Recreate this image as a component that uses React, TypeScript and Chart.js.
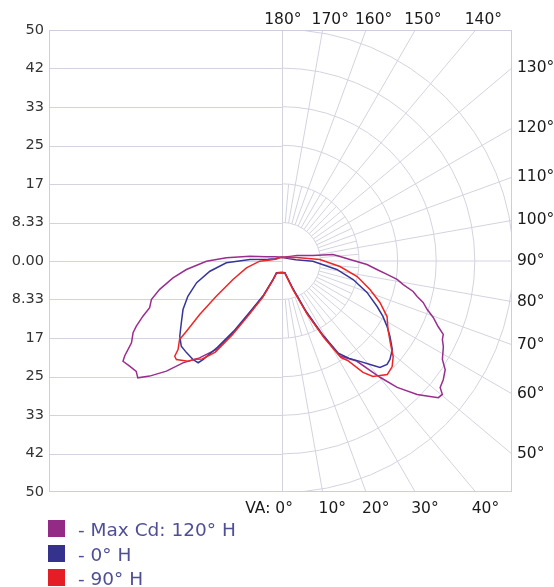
import React, { useEffect, useRef } from 'react';
import { Chart, registerables } from 'chart.js';

Chart.register(...registerables);

// candela scale (tick values run bottom -> top)
const yTickValues = [-50, -41.667, -33.333, -25, -16.667, -8.333, 0, 8.333, 16.667, 25, 33.333, 41.667, 50];
const yTickLabels = ['50', '42', '33', '25', '17', '8.33', '0.00', '8.33', '17', '25', '33', '42', '50'];
const ringValues = [8.333, 16.667, 25, 33.333, 41.667, 50];

// vertical angle labels around the polar half
const topAngles = [180, 170, 160, 150, 140];
const rightAngles = [130, 120, 110, 100, 90, 80, 70, 60, 50];
const bottomAngles = [0, 10, 20, 30, 40];

// [vertical angle, candela]
const maxCdRight = [
  [0, 2.5], [14, 2.6], [21.6, 6.6], [25.5, 12.4], [28.8, 18.6], [31.4, 24.1], [36.7, 27.0],
  [40.1, 32.9], [42.3, 37.0], [45.3, 41.1], [47.5, 43.4], [48.8, 44.9], [50.2, 45.1], [51.3, 43.8],
  [53.6, 43.3], [56.3, 42.4], [58.4, 40.7], [62, 39.5], [63.9, 38.6], [65.5, 38.3], [67.2, 36.6],
  [69.5, 34.9], [71.5, 33.1], [73.6, 31.8], [75.3, 30.2], [76.9, 29.1], [79, 26.7], [80.9, 25.2],
  [82.7, 22.9], [84.9, 20.6], [87.6, 18.4], [91.3, 14.7], [94.4, 12.6], [97.3, 11.1], [100, 6.8],
  [110, 3.5], [120, 2.0], [150, 1.0], [180, 0.8],
];
const maxCdLeft = [
  [0, 2.5], [24.2, 2.8], [25.2, 4.4], [28, 8.6], [31.7, 13.2], [34.1, 18.8], [36.4, 23.8],
  [40.3, 27.5], [44.1, 30.7], [46.3, 34.5], [48.9, 37.9], [50.9, 40.1], [52.8, 39.5], [55.3, 40.0],
  [57.7, 40.6], [58.8, 39.7], [61.4, 37.0], [64.2, 35.7], [65.8, 34.5], [68.3, 32.3], [70.5, 30.3],
  [73.5, 29.4], [76.9, 27.1], [81.2, 23.8], [84.9, 20.7], [89.8, 16.3], [93.3, 12.0], [98.5, 7.0],
  [105, 3.5], [120, 1.8], [150, 1.0], [180, 0.8],
];
const zeroRight = [
  [0, 2.5], [14, 2.6], [21.6, 6.4], [25.5, 12.0], [28.8, 18.0], [31.4, 23.4], [34.6, 25.6],
  [37.8, 27.5], [40.4, 29.4], [42.6, 31.3], [45.4, 31.9], [47.6, 31.6], [51.2, 30.6], [55, 28.5],
  [58, 26.8], [61.2, 24.9], [64.4, 22.8], [69.7, 19.6], [75.4, 15.9], [81.2, 12.0], [89.6, 6.7],
  [95, 3.0], [110, 1.5], [140, 0.9], [180, 0.8],
];
const zeroLeft = [
  [0, 2.5], [24.2, 2.8], [25.3, 4.3], [28.2, 8.4], [32, 12.9], [34.4, 18.4], [36.7, 23.3],
  [38.6, 27.3], [39.4, 28.5], [42, 28.7], [46.1, 28.6], [49.7, 28.5], [53.6, 27.4], [58.4, 25.5],
  [63.8, 23.8], [69.4, 21.7], [75.7, 19.0], [81.9, 15.7], [88.1, 12.0], [92.7, 6.9], [97, 3.0],
  [110, 1.5], [140, 0.9], [180, 0.8],
];
const ninetyRight = [
  [0, 2.5], [14, 2.7], [21.6, 7.0], [25.5, 12.8], [28.8, 19.0], [31.4, 24.5], [33.4, 25.8],
  [36, 29.8], [38.2, 31.8], [42.8, 33.5], [46.2, 33.0], [49.3, 31.7], [53, 29.3], [57.1, 27.3],
  [62.1, 25.7], [67, 23.0], [72, 20.0], [78.3, 16.6], [84.6, 12.6], [92.3, 8.2], [103, 3.3],
  [120, 1.5], [150, 0.9], [180, 0.8],
];
const ninetyLeft = [
  [0, 2.5], [24.2, 2.9], [25, 4.6], [27.8, 8.9], [31.4, 13.6], [33.8, 19.3], [36.1, 24.4],
  [39, 27.3], [41.5, 28.4], [43.1, 29.7], [46.9, 31.2], [48.3, 31.0], [49.5, 29.5], [52.4, 27.9],
  [53.6, 25.6], [56.9, 21.2], [61.7, 16.1], [69.2, 11.3], [79.1, 7.8], [89.5, 4.8], [95, 2.5],
  [110, 1.2], [140, 0.9], [180, 0.8],
];

const seriesNames = ['- Max Cd: 120° H', '- 0° H', '- 90° H'];
const seriesColors = ['#9a2e8e', '#36359a', '#ee2626'];
const legendColors = ['#922a86', '#34328c', '#e41e24'];

const GRID = '#d3d3e0';
const FONT = '"DejaVu Sans", Verdana, sans-serif';
const rad = (d: number) => (d * Math.PI) / 180;

// right half goes nadir -> zenith, left half comes back zenith -> nadir
const toLoop = (right: number[][], left: number[][]) => [
  ...right.map(([a, c]) => ({ x: c * Math.sin(rad(a)), y: -c * Math.cos(rad(a)) })),
  ...[...left].reverse().map(([a, c]) => ({ x: -c * Math.sin(rad(a)), y: -c * Math.cos(rad(a)) })),
];

const polarGridPlugin = {
  id: 'polarGrid',
  beforeDatasetsDraw(chart: any) {
    const { ctx, chartArea: area, scales } = chart;
    const xs = scales.x;
    const ys = scales.y;
    const cx = xs.getPixelForValue(0);
    const cy = ys.getPixelForValue(0);
    const unit = (xs.getPixelForValue(10) - cx) / 10;
    const pt = (r: number, a: number) => [cx + r * unit * Math.sin(rad(a)), cy + r * unit * Math.cos(rad(a))];

    ctx.save();
    ctx.beginPath();
    ctx.rect(area.left, area.top, area.right - area.left, area.bottom - area.top);
    ctx.clip();
    ctx.strokeStyle = GRID;
    ctx.lineWidth = 1;

    // left half: plain horizontal lines
    yTickValues.forEach((v) => {
      const y = Math.round(ys.getPixelForValue(v)) + 0.5;
      ctx.beginPath();
      ctx.moveTo(area.left, y);
      ctx.lineTo(cx, y);
      ctx.stroke();
    });
    ctx.beginPath();
    ctx.moveTo(Math.round(cx) + 0.5, area.top);
    ctx.lineTo(Math.round(cx) + 0.5, area.bottom);
    ctx.stroke();

    // right half: rings and radial lines
    ringValues.forEach((r) => {
      ctx.beginPath();
      ctx.arc(cx, cy, r * unit, -Math.PI / 2, Math.PI / 2);
      ctx.stroke();
    });
    for (let a = 5; a < 180; a += 5) {
      const outer = a % 10 === 0 ? 90 : ringValues[1];
      const [x1, y1] = pt(ringValues[0], a);
      const [x2, y2] = pt(outer, a);
      ctx.beginPath();
      ctx.moveTo(x1, y1);
      ctx.lineTo(x2, y2);
      ctx.stroke();
    }
    ctx.restore();

    ctx.save();
    ctx.strokeStyle = '#cdcddb';
    ctx.lineWidth = 1;
    ctx.strokeRect(area.left + 0.5, area.top + 0.5, area.right - area.left - 1, area.bottom - area.top - 1);

    ctx.font = `15.5px ${FONT}`;
    ctx.fillStyle = '#1a1a1a';
    ctx.textBaseline = 'middle';

    topAngles.forEach((a) => {
      const s = (area.top - cy) / Math.cos(rad(a));
      const px = cx + s * Math.sin(rad(a));
      if (a === 180) {
        ctx.textAlign = 'center';
        ctx.fillText(`${a}°`, cx + 1, area.top - 10);
      } else {
        ctx.textAlign = 'left';
        ctx.fillText(`${a}°`, px - 11, area.top - 10);
      }
    });
    bottomAngles.forEach((a) => {
      const s = (area.bottom - cy) / Math.cos(rad(a));
      const px = cx + s * Math.sin(rad(a));
      if (a === 0) {
        ctx.textAlign = 'right';
        ctx.fillText('VA: 0°', cx + 11, area.bottom + 16.5);
      } else {
        ctx.textAlign = 'left';
        ctx.fillText(`${a}°`, px - 4, area.bottom + 16.5);
      }
    });
    rightAngles.forEach((a) => {
      const s = (area.right - cx) / Math.sin(rad(a));
      const py = cy + s * Math.cos(rad(a));
      ctx.textAlign = 'left';
      ctx.fillText(`${a}°`, area.right + 5, py);
    });
    ctx.restore();
  },
};

export default function App() {
  const canvasRef = useRef<HTMLCanvasElement>(null);

  useEffect(() => {
    if (!canvasRef.current) return;
    const loops = [
      toLoop(maxCdRight, maxCdLeft),
      toLoop(zeroRight, zeroLeft),
      toLoop(ninetyRight, ninetyLeft),
    ];

    const chart = new Chart(canvasRef.current, {
      type: 'scatter',
      data: {
        datasets: loops.map((pts, i) => ({
          label: seriesNames[i],
          data: pts,
          showLine: true,
          borderColor: seriesColors[i],
          backgroundColor: seriesColors[i],
          borderWidth: 1.5,
          pointRadius: 0,
          tension: 0,
          fill: false,
          order: 2 - i,
        })),
      },
      plugins: [polarGridPlugin],
      options: {
        responsive: true,
        maintainAspectRatio: false,
        animation: false,
        layout: { padding: { top: 30, right: 42, bottom: 95, left: 0 } },
        plugins: {
          legend: { display: false },
          tooltip: { enabled: false },
        },
        scales: {
          x: {
            type: 'linear',
            min: -50.3,
            max: 49.7,
            display: false,
          },
          y: {
            type: 'linear',
            min: -50,
            max: 50,
            afterBuildTicks: (scale: any) => {
              scale.ticks = yTickValues.map((v) => ({ value: v }));
            },
            afterFit: (scale: any) => {
              scale.width = 49;
            },
            grid: { display: false, drawTicks: false },
            border: { display: false },
            ticks: {
              autoSkip: false,
              padding: 5,
              color: '#333',
              font: { family: FONT, size: 14.5 },
              callback: (_v: any, i: number) => yTickLabels[i],
            },
          },
        },
      },
    });

    return () => chart.destroy();
  }, []);

  return (
    <div style={{ position: 'absolute', left: 0, top: 0, width: 554, height: 587, background: '#fff' }}>
      <canvas ref={canvasRef}></canvas>
      <div style={{ position: 'absolute', left: 48, top: 520 }}>
        {seriesNames.map((name, i) => (
          <div key={name} style={{ display: 'flex', alignItems: 'center', height: 17, marginBottom: i === 0 ? 8 : 7 }}>
            <span style={{ width: 17, height: 17, background: legendColors[i], display: 'inline-block' }}></span>
            <span style={{ marginLeft: 13, fontFamily: FONT, fontSize: 18.5, color: '#4f4f96', lineHeight: '17px', position: 'relative', top: 1 }}>
              {name}
            </span>
          </div>
        ))}
      </div>
    </div>
  );
}
